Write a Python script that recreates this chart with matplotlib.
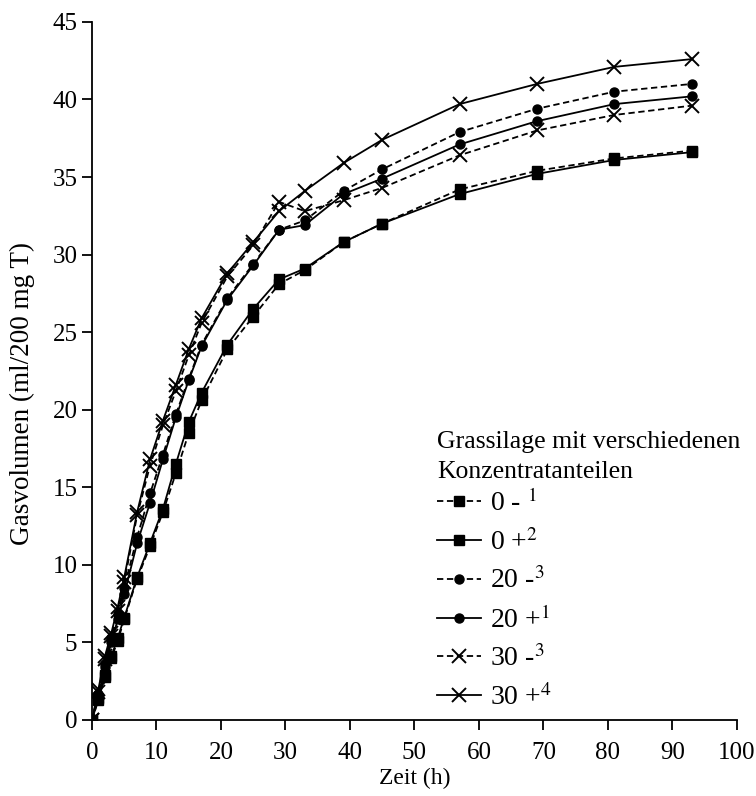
import matplotlib
matplotlib.use('Agg')
from matplotlib import pyplot as plt

plt.rcParams['font.family'] = ['Liberation Serif', 'DejaVu Serif']
plt.rcParams['mathtext.fontset'] = 'stix'

# Zeitpunkte (h)
zeit = [0, 1, 2, 3, 4, 5, 7, 9, 11, 13, 15, 17, 21, 25, 29, 33, 39, 45, 57, 69, 81, 93]

# Gasvolumen (ml/200 mg T) je Variante
g0_minus = [0, 1.3, 2.8, 4.0, 5.1, 6.5, 9.1, 11.2, 13.4, 15.9, 18.5, 20.6, 23.9, 26.0, 28.1, 29.0, 30.8, 32.0, 34.2, 35.4, 36.2, 36.7]
g0_plus = [0, 1.4, 2.9, 4.1, 5.3, 6.6, 9.2, 11.4, 13.6, 16.5, 19.2, 21.1, 24.2, 26.5, 28.4, 29.1, 30.8, 32.0, 33.9, 35.2, 36.1, 36.6]
g20_minus = [0, 1.7, 3.6, 5.3, 6.8, 8.5, 11.8, 14.6, 17.1, 19.7, 22.0, 24.2, 27.2, 29.4, 31.6, 32.2, 34.1, 35.5, 37.9, 39.4, 40.5, 41.0]
g20_plus = [0, 1.6, 3.4, 5.0, 6.5, 8.1, 11.4, 14.0, 16.8, 19.5, 21.9, 24.1, 27.1, 29.3, 31.6, 31.9, 33.9, 34.9, 37.1, 38.6, 39.7, 40.2]
g30_minus = [0, 1.8, 3.9, 5.4, 7.0, 8.9, 13.2, 16.4, 19.0, 21.2, 23.5, 25.6, 28.6, 30.6, 33.4, 32.8, 33.5, 34.3, 36.4, 38.0, 39.0, 39.6]
g30_plus = [0, 2.0, 4.1, 5.6, 7.3, 9.2, 13.4, 16.8, 19.3, 21.6, 23.9, 25.9, 28.8, 30.8, 32.8, 34.1, 35.9, 37.4, 39.7, 41.0, 42.1, 42.6]

labels = [r'0 - $^{1}$', r'0 +$^{2}$', r'20 -$^{3}$', r'20 +$^{1}$', r'30 -$^{3}$', r'30 +$^{4}$']

fig = plt.figure(figsize=(7.56, 7.96), dpi=100)
ax = fig.add_axes([0.1217, 0.0955, 0.853, 0.877])

dash = (0, (3.5, 2))
kw = dict(color='black', linewidth=1.3)
ax.plot(zeit, g0_minus, linestyle=dash, marker='s', markersize=7.5, label=labels[0], **kw)
ax.plot(zeit, g0_plus, linestyle='-', marker='s', markersize=7.5, label=labels[1], **kw)
ax.plot(zeit, g20_minus, linestyle=dash, marker='o', markersize=6.5, label=labels[2], **kw)
ax.plot(zeit, g20_plus, linestyle='-', marker='o', markersize=6.5, label=labels[3], **kw)
ax.plot(zeit, g30_minus, linestyle=dash, marker='x', markersize=10, markeredgewidth=1.4, label=labels[4], **kw)
ax.plot(zeit, g30_plus, linestyle='-', marker='x', markersize=10, markeredgewidth=1.4, label=labels[5], **kw)

ax.set_xlim(0, 100)
ax.set_ylim(0, 45)
ax.set_xticks(range(0, 101, 10))
ax.set_yticks(range(0, 46, 5))
ax.spines['top'].set_visible(False)
ax.spines['right'].set_visible(False)
ax.spines['left'].set_linewidth(1.3)
ax.spines['bottom'].set_linewidth(1.3)
ax.tick_params(direction='out', length=7, width=1.3, labelsize=18)
ax.tick_params(axis='x', pad=9)
ax.set_xlabel('Zeit (h)', fontsize=17, labelpad=3)
ax.set_ylabel('Gasvolumen (ml/200 mg T)', fontsize=19.5)
ax.yaxis.set_label_coords(-0.088, 0.468)

leg = ax.legend(title='Grassilage mit verschiedenen\nKonzentratanteilen', frameon=False,
                loc='upper left', bbox_to_anchor=(0.535, 0.414), fontsize=20, title_fontsize=18.5,
                handlelength=1.6, handletextpad=0.3, labelspacing=0.42, alignment='left',
                borderaxespad=0, borderpad=0)
leg.get_title().set_linespacing(1.45)
leg._legend_box.sep = 5

fig.savefig('out.png', dpi=100)
